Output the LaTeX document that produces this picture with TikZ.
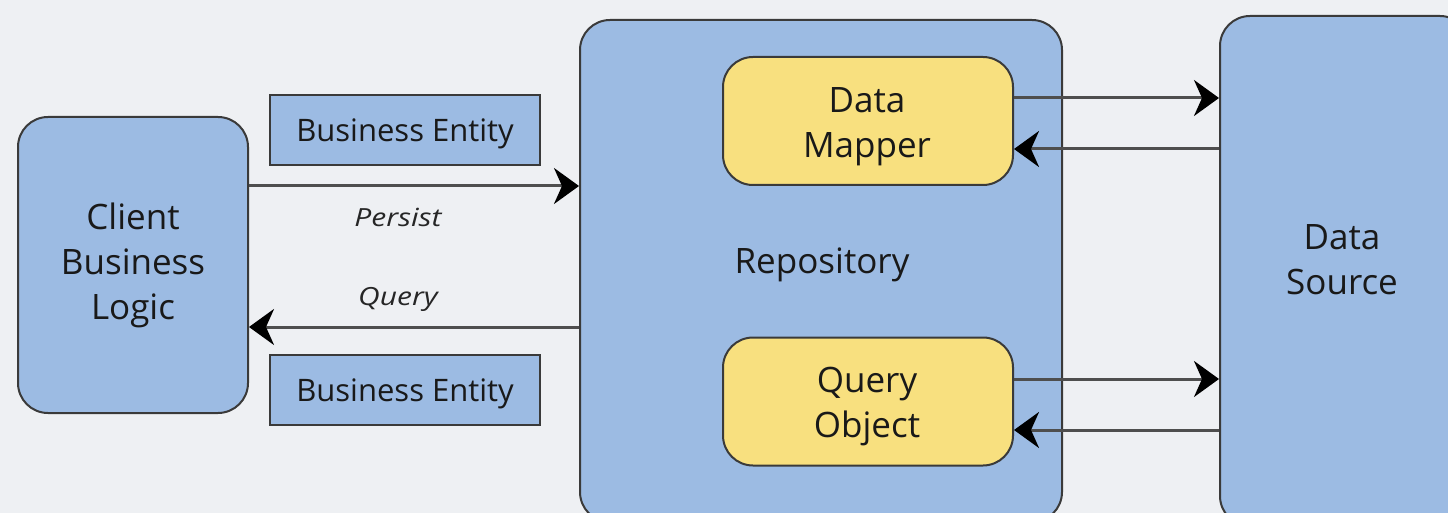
\documentclass[tikz,border=0pt]{standalone}
\usepackage{fontspec}
\setmainfont{Open Sans}
\usetikzlibrary{arrows.meta}
\definecolor{bgc}{HTML}{EEF0F3}
\definecolor{boxc}{HTML}{9CBBE3}
\definecolor{yelc}{HTML}{F8E07F}
\definecolor{edgec}{HTML}{3A3A3A}
\definecolor{linec}{HTML}{4E4E4E}
\tikzset{
  bigbox/.style={draw=edgec, line width=2pt, fill=boxc, rounded corners=30pt, inner sep=0pt, align=center, font=\fontsize{35}{45}\selectfont, text=black!90},
  entbox/.style={draw=edgec, line width=2pt, fill=boxc, inner sep=0pt, minimum width=270pt, minimum height=70pt, text height=31pt, text depth=7.5pt, font=\fontsize{31}{36}\selectfont, text=black!90},
  yelbox/.style={draw=edgec, line width=2pt, fill=yelc, rounded corners=30pt, inner sep=0pt, minimum width=290pt, minimum height=128pt},
  bigtext/.style={align=center, inner sep=0pt, font=\fontsize{35}{45}\selectfont, text=black!90},
  lbl/.style={inner sep=0pt, font=\fontsize{25}{28}\selectfont\itshape\addfontfeature{FakeStretch=1.2}, text=black!85},
  arr/.style={draw=linec, line width=3pt, -{Stealth[length=25pt, width=36pt, inset=8pt, fill=black, color=black]}}
}
\begin{document}
\begin{tikzpicture}[x=1pt, y=-1pt]
\path[use as bounding box, fill=bgc] (0,0) rectangle (1448,513);
\clip (0,0) rectangle (1448,513);
\node[bigbox, minimum width=230pt, minimum height=296pt] (client) at (133,265) {Client\\Business\\Logic};
\node[entbox] (be1) at (405,130) {Business Entity};
\node[entbox] (be2) at (405,389.5) {Business Entity};
\node[bigbox, minimum width=482pt, minimum height=502pt] (repo) at (821,271) {};
\node[bigtext] (repolabel) at (822,265) {Repository};
\node[yelbox] (dm) at (868,121) {};
\node[bigtext] (dmlabel) at (867,127) {Data\\Mapper};
\node[yelbox] (qo) at (868,401.5) {};
\node[bigtext] (qolabel) at (867,407) {Query\\Object};
\node[bigbox, minimum width=250pt, minimum height=510pt] (ds) at (1345,271) {};
\node[bigtext] (dslabel) at (1342,260) {Data\\Source};
\node[lbl] (persist) at (398,217) {Persist};
\node[lbl] (query) at (398,299) {Query};
\draw[arr] (client.east |- 0,186) -- (repo.west |- 0,186);
\draw[arr] (repo.west |- 0,327) -- (client.east |- 0,327);
\draw[arr] (dm.east |- 0,98) -- (ds.west |- 0,98);
\draw[arr] (ds.west |- 0,149) -- (dm.east |- 0,149);
\draw[arr] (qo.east |- 0,379) -- (ds.west |- 0,379);
\draw[arr] (ds.west |- 0,430) -- (qo.east |- 0,430);
\end{tikzpicture}
\end{document}
